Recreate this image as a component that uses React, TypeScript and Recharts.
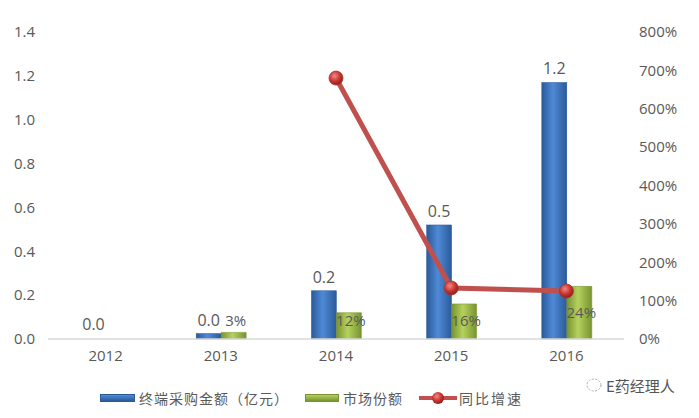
import React from 'react';
import { ComposedChart, Bar, Line, XAxis, YAxis, LabelList } from 'recharts';

const years = ['2012', '2013', '2014', '2015', '2016'];
const purchaseAmount = [0, 0.025, 0.22, 0.52, 1.17];
const marketShare = [null, 0.03, 0.12, 0.16, 0.24];
const yoyGrowth = [null, null, 680, 133, 125];
const leftTicks = [0, 0.2, 0.4, 0.6, 0.8, 1.0, 1.2, 1.4];
const rightTicks = [0, 100, 200, 300, 400, 500, 600, 700, 800];

const data = years.map((year, i) => ({
    year,
    amount: purchaseAmount[i],
    share: marketShare[i],
    growth: yoyGrowth[i],
}));

const TEXT = '#595959';
const CJK = '"Noto Sans CJK SC", "Open Sans", sans-serif';
const NUM = '"Open Sans", "Noto Sans", sans-serif';

const ShareLabel = (props: any) => {
    const { x, y, width, height, value } = props;
    if (value == null) return null;
    const base = y + height;
    const cy = Math.min(y + height / 2, base - 18);
    return (
        <text x={x + width / 2 + 2} y={cy} dy="0.35em" textAnchor="middle" fill={TEXT} fontSize={15} fontFamily={NUM}>
            {`${Math.round(value * 100)}%`}
        </text>
    );
};

const AmountBar = (props: any) => {
    const { x, y, width, height, payload } = props;
    if (!payload || !(payload.amount > 0)) return <g />;
    return <rect x={x} y={y} width={width} height={height} fill="url(#blueBar)" stroke="#2A5A9A" strokeWidth={0.5} />;
};

const RedDot = (props: any) => {
    const { cx, cy } = props;
    if (cx == null || cy == null) return null;
    return <circle cx={cx} cy={cy} r={7} fill="url(#redBall)" stroke="#A33330" strokeWidth={0.8} />;
};

const App: React.FC = () => {
    return (
        <div style={{ position: 'absolute', left: 0, top: 0, width: 699, height: 418, background: '#fff' }}>
            <ComposedChart
                width={699}
                height={418}
                data={data}
                margin={{ top: 32, right: 0, bottom: 49, left: 0 }}
                barGap={0}
            >
                <defs>
                    <linearGradient id="blueBar" x1="0" y1="0" x2="1" y2="0">
                        <stop offset="0%" stopColor="#2A5A9A" />
                        <stop offset="45%" stopColor="#4F8AD6" />
                        <stop offset="100%" stopColor="#2A5A9A" />
                    </linearGradient>
                    <linearGradient id="greenBar" x1="0" y1="0" x2="1" y2="0">
                        <stop offset="0%" stopColor="#77932F" />
                        <stop offset="45%" stopColor="#B5D15E" />
                        <stop offset="100%" stopColor="#77932F" />
                    </linearGradient>
                    <radialGradient id="redBall" cx="40%" cy="35%" r="65%">
                        <stop offset="0%" stopColor="#F08A86" />
                        <stop offset="60%" stopColor="#C8332E" />
                        <stop offset="100%" stopColor="#8E1F1C" />
                    </radialGradient>
                </defs>
                <XAxis
                    dataKey="year"
                    height={30}
                    tickLine={false}
                    axisLine={{ stroke: '#D9D9D9', strokeWidth: 1.5 }}
                    tickMargin={5}
                    tick={{ fill: TEXT, fontSize: 15, fontFamily: NUM }}
                />
                <YAxis
                    yAxisId="left"
                    width={48}
                    domain={[0, 1.4]}
                    ticks={leftTicks}
                    tickFormatter={(v: number) => v.toFixed(1)}
                    axisLine={false}
                    tickLine={false}
                    tickMargin={7}
                    tick={{ fill: TEXT, fontSize: 15, fontFamily: NUM }}
                />
                <YAxis
                    yAxisId="right"
                    orientation="right"
                    width={75}
                    domain={[0, 800]}
                    ticks={rightTicks}
                    tickFormatter={(v: number) => `${v}%`}
                    axisLine={false}
                    tickLine={false}
                    tickMargin={9}
                    tick={{ fill: TEXT, fontSize: 15, fontFamily: NUM, textAnchor: 'start' }}
                />
                <Bar yAxisId="left" dataKey="amount" barSize={25} minPointSize={1} shape={AmountBar} isAnimationActive={false}>
                    <LabelList
                        dataKey="amount"
                        position="top"
                        offset={8}
                        formatter={(v: any) => Number(v).toFixed(1)}
                        style={{ fill: TEXT, fontSize: 16, fontFamily: NUM }}
                    />
                </Bar>
                <Bar yAxisId="left" dataKey="share" barSize={25} fill="url(#greenBar)" stroke="#77932F" strokeWidth={0.5} isAnimationActive={false}>
                    <LabelList dataKey="share" content={ShareLabel} />
                </Bar>
                <Line
                    yAxisId="right"
                    dataKey="growth"
                    stroke="#C0504D"
                    strokeWidth={5}
                    dot={RedDot}
                    activeDot={false}
                    connectNulls={false}
                    isAnimationActive={false}
                />
            </ComposedChart>

            <div style={{ position: 'absolute', left: 100, top: 388, display: 'flex', alignItems: 'center', fontFamily: CJK, fontSize: 14, color: TEXT, whiteSpace: 'nowrap' }}>
                <span style={{ display: 'inline-block', width: 33, height: 6, background: 'linear-gradient(#4F8AD6, #2A5A9A)', border: '1px solid #2A5A9A', marginRight: 4 }} />
                <span style={{ letterSpacing: 1 }}>终端采购金额（亿元）</span>
                <span style={{ display: 'inline-block', width: 32, height: 6, background: 'linear-gradient(#B5D15E, #77932F)', border: '1px solid #77932F', marginLeft: 16, marginRight: 4 }} />
                <span style={{ letterSpacing: 1 }}>市场份额</span>
                <span style={{ position: 'relative', display: 'inline-block', width: 38, height: 14, marginLeft: 16, marginRight: 2 }}>
                    <span style={{ position: 'absolute', left: 0, top: 5, width: 38, height: 4, background: '#C0504D' }} />
                    <svg width={14} height={14} style={{ position: 'absolute', left: 12, top: 0 }}>
                        <circle cx={7} cy={7} r={6} fill="url(#redBallLegend)" />
                        <defs>
                            <radialGradient id="redBallLegend" cx="40%" cy="35%" r="65%">
                                <stop offset="0%" stopColor="#F08A86" />
                                <stop offset="60%" stopColor="#C8332E" />
                                <stop offset="100%" stopColor="#8E1F1C" />
                            </radialGradient>
                        </defs>
                    </svg>
                </span>
                <span style={{ letterSpacing: 2 }}>同比增速</span>
            </div>

            <div style={{ position: 'absolute', left: 586, top: 375, display: 'flex', alignItems: 'center', fontFamily: CJK, fontSize: 15, color: '#555' }}>
                <svg width={18} height={16} style={{ marginRight: 2 }}>
                    <ellipse cx={8} cy={7} rx={7} ry={6} fill="none" stroke="#AAA" strokeWidth={1} strokeDasharray="2 1.5" />
                </svg>
                <span>E药经理人</span>
            </div>
        </div>
    );
};

export default App;
